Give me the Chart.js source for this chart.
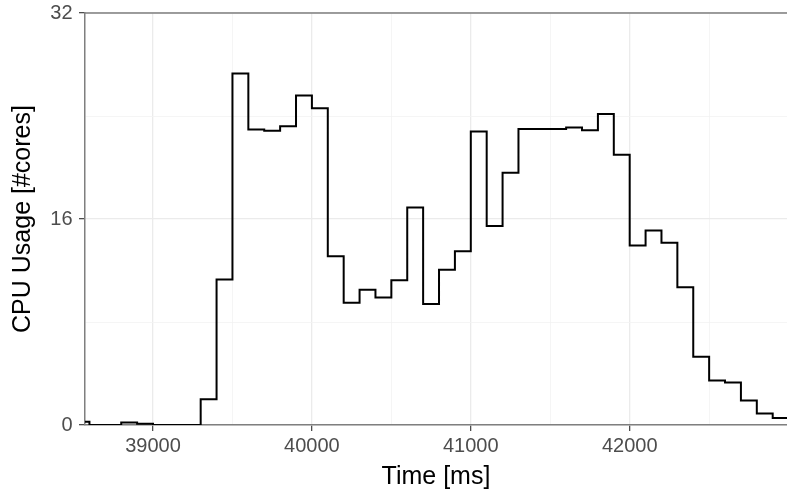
<!DOCTYPE html>
<html>
<head>
<meta charset="utf-8">
<script src="https://cdn.jsdelivr.net/npm/chart.js@4"></script>
<style>
  body { margin: 0; background: #fff; }
</style>
</head>
<body>
<canvas id="myChart" width="787" height="491"></canvas>
<script>
// start of each 100 ms bin
let times = [38500, 38600, 38700, 38800, 38900, 39000, 39100, 39200, 39300, 39400,
  39500, 39600, 39700, 39800, 39900, 40000, 40100, 40200, 40300, 40400,
  40500, 40600, 40700, 40800, 40900, 41000, 41100, 41200, 41300, 41400,
  41500, 41600, 41700, 41800, 41900, 42000, 42100, 42200, 42300, 42400,
  42500, 42600, 42700, 42800, 42900, 43000];
let cores = [0.25, 0, 0, 0.2, 0.1, 0, 0, 0, 2.0, 11.3,
  27.3, 22.95, 22.85, 23.2, 25.6, 24.6, 13.1, 9.5, 10.5, 9.9,
  11.25, 16.9, 9.4, 12.05, 13.5, 22.8, 15.45, 19.6, 23.0, 23.0,
  23.0, 23.1, 22.9, 24.15, 21.0, 13.95, 15.1, 14.15, 10.7, 5.3,
  3.45, 3.3, 1.9, 0.9, 0.55, 0.55];

let xMajorTicks = [39000, 40000, 41000, 42000];
let xMinorTicks = [39500, 40500, 41500, 42500];
let yMajorTicks = [0, 16, 32];
let yMinorTicks = [8, 24];

let points = times.map((t, i) => ({ x: t, y: cores[i] }));

const axisGray = '#7f7f7f';
const fontFamily = "'Liberation Sans', Arial, sans-serif";

// top edge of the panel (ggplot-style border)
const panelTop = {
  id: 'panelTop',
  afterDraw(chart) {
    const { ctx, chartArea } = chart;
    ctx.save();
    ctx.strokeStyle = axisGray;
    ctx.lineWidth = 1.5;
    ctx.beginPath();
    ctx.moveTo(chartArea.left, chartArea.top);
    ctx.lineTo(chartArea.right, chartArea.top);
    ctx.stroke();
    ctx.restore();
  }
};

function gridOpts(major) {
  return {
    color: c => major.includes(c.tick.value) ? '#ebebeb' : '#f3f3f3',
    lineWidth: c => major.includes(c.tick.value) ? 1.3 : 0.8,
    tickLength: 6,
    tickWidth: 1.3,
    tickColor: c => major.includes(c.tick.value) ? '#4d4d4d' : 'rgba(0,0,0,0)'
  };
}

var ctx = document.getElementById('myChart').getContext('2d');
var myChart = new Chart(ctx, {
  type: 'line',
  data: {
    datasets: [{
      label: 'CPU Usage',
      data: points,
      stepped: 'before',
      borderColor: '#000000',
      borderWidth: 2,
      pointRadius: 0,
      fill: false
    }]
  },
  options: {
    responsive: false,
    animation: false,
    layout: { padding: { top: 13, right: 0, bottom: 0, left: 0 } },
    plugins: {
      legend: { display: false },
      tooltip: { enabled: false }
    },
    scales: {
      x: {
        type: 'linear',
        min: 38572,
        max: 42990,
        afterBuildTicks: axis => {
          axis.ticks = [...xMajorTicks, ...xMinorTicks].sort((a, b) => a - b).map(v => ({ value: v }));
        },
        afterFit: axis => {
          axis.height = 66;
          axis.paddingLeft = 0;
          axis.paddingRight = 0;
        },
        ticks: {
          autoSkip: false,
          maxRotation: 0,
          padding: 3,
          color: '#4d4d4d',
          font: { family: fontFamily, size: 20 },
          callback: v => xMajorTicks.includes(v) ? String(v) : ''
        },
        grid: gridOpts(xMajorTicks),
        border: { color: axisGray, width: 1.5 },
        title: {
          display: true,
          text: 'Time [ms]',
          color: '#000000',
          font: { family: fontFamily, size: 25 },
          padding: { top: 0, bottom: -1 }
        }
      },
      y: {
        min: 0,
        max: 32,
        afterBuildTicks: axis => {
          axis.ticks = [...yMajorTicks, ...yMinorTicks].sort((a, b) => a - b).map(v => ({ value: v }));
        },
        afterFit: axis => {
          axis.width = 85;
          axis.paddingTop = 0;
          axis.paddingBottom = 0;
        },
        ticks: {
          autoSkip: false,
          padding: 6.5,
          color: '#4d4d4d',
          font: { family: fontFamily, size: 20 },
          callback: v => yMajorTicks.includes(v) ? String(v) : ''
        },
        grid: gridOpts(yMajorTicks),
        border: { color: axisGray, width: 1.5 },
        title: {
          display: true,
          text: 'CPU Usage [#cores]',
          color: '#000000',
          font: { family: fontFamily, size: 25 },
          padding: { top: 8, bottom: 0 }
        }
      }
    }
  },
  plugins: [panelTop]
});
</script>
</body>
</html>
